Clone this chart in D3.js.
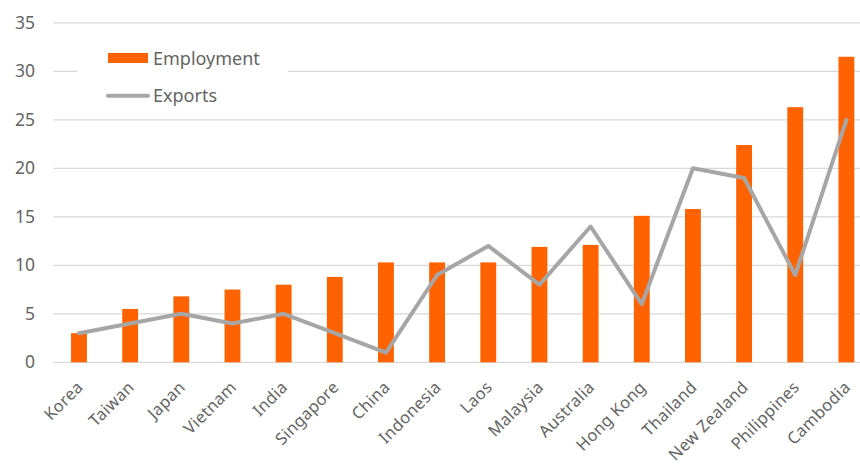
<!DOCTYPE html>
<html>
<head>
<meta charset="utf-8">
<script src="https://cdn.jsdelivr.net/npm/d3@7"></script>
<style>
  html, body { margin: 0; padding: 0; background: #fff; }
  svg { display: block; font-family: "Noto Sans", "DejaVu Sans", sans-serif; }
</style>
</head>
<body>
<svg id="chart" width="860" height="465"></svg>
<script>
// Countries, ordered by employment share
const categories = ["Korea", "Taiwan", "Japan", "Vietnam", "India", "Singapore", "China", "Indonesia",
  "Laos", "Malaysia", "Australia", "Hong Kong", "Thailand", "New Zealand", "Philippines", "Cambodia"];
const employment = [3.0, 5.5, 6.8, 7.5, 8.0, 8.8, 10.3, 10.3, 10.3, 11.9, 12.1, 15.1, 15.8, 22.4, 26.3, 31.5];
const exportsShare = [3, 4, 5, 4, 5, 3, 1, 9, 12, 8, 14, 6, 20, 19, 9, 25];
const yTicks = [0, 5, 10, 15, 20, 25, 30, 35];

const svg = d3.select("#chart");
const W = 860;
const plotLeft = 53.4, plotRight = 872, plotTop = 22.8, plotBottom = 362.3;
const textColor = "#646464";

const x = d3.scaleBand().domain(categories).range([plotLeft, plotRight]).paddingInner(0.69).paddingOuter(0.345);
const y = d3.scaleLinear().domain([0, 35]).range([plotBottom, plotTop]);

// horizontal gridlines
svg.append("g")
  .selectAll("line")
  .data(yTicks)
  .join("line")
  .attr("x1", plotLeft).attr("x2", W)
  .attr("y1", d => y(d)).attr("y2", d => y(d))
  .attr("stroke", "#d9d9d9").attr("stroke-width", 1.3);

// y-axis labels
const yAxis = d3.axisLeft(y).tickValues(yTicks).tickSize(0).tickPadding(0);
const gy = svg.append("g").attr("transform", `translate(35,0)`).call(yAxis);
gy.select(".domain").remove();
gy.selectAll("text")
  .attr("font-size", 17.5).attr("fill", textColor)
  .attr("font-family", "'Noto Sans', sans-serif");

// employment bars
svg.append("g")
  .selectAll("rect")
  .data(categories)
  .join("rect")
  .attr("x", d => x(d))
  .attr("width", x.bandwidth())
  .attr("y", (d, i) => y(employment[i]))
  .attr("height", (d, i) => y(0) - y(employment[i]))
  .attr("fill", "#FF6200");

// exports line
const line = d3.line()
  .x((d, i) => x(categories[i]) + x.bandwidth() / 2)
  .y(d => y(d));
svg.append("path")
  .datum(exportsShare)
  .attr("d", line)
  .attr("fill", "none")
  .attr("stroke", "#a6a6a6")
  .attr("stroke-width", 4)
  .attr("stroke-linejoin", "round")
  .attr("stroke-linecap", "round");

// category labels, rotated
const xAxis = d3.axisBottom(x).tickSize(0).tickPadding(0);
const gx = svg.append("g").attr("transform", `translate(0,${plotBottom})`).call(xAxis);
gx.select(".domain").remove();
gx.selectAll("text")
  .attr("font-size", 16.5).attr("fill", textColor)
  .attr("font-family", "'Noto Sans', sans-serif")
  .attr("letter-spacing", 0.3)
  .attr("text-anchor", "end")
  .attr("dy", null)
  .attr("transform", "translate(5,26) rotate(-45)");

// legend
const legend = svg.append("g");
legend.append("rect")
  .attr("x", 77).attr("y", 26).attr("width", 211).attr("height", 91)
  .attr("fill", "#fff");
legend.append("rect")
  .attr("x", 108).attr("y", 53).attr("width", 40).attr("height", 10)
  .attr("fill", "#FF6200");
legend.append("text")
  .attr("x", 153).attr("y", 64.5)
  .attr("font-size", 18).attr("fill", textColor)
  .text("Employment");
legend.append("line")
  .attr("x1", 108).attr("x2", 148).attr("y1", 95.7).attr("y2", 95.7)
  .attr("stroke", "#a6a6a6").attr("stroke-width", 4).attr("stroke-linecap", "round");
legend.append("text")
  .attr("x", 153).attr("y", 101.5)
  .attr("font-size", 18).attr("fill", textColor)
  .text("Exports");
</script>
</body>
</html>
